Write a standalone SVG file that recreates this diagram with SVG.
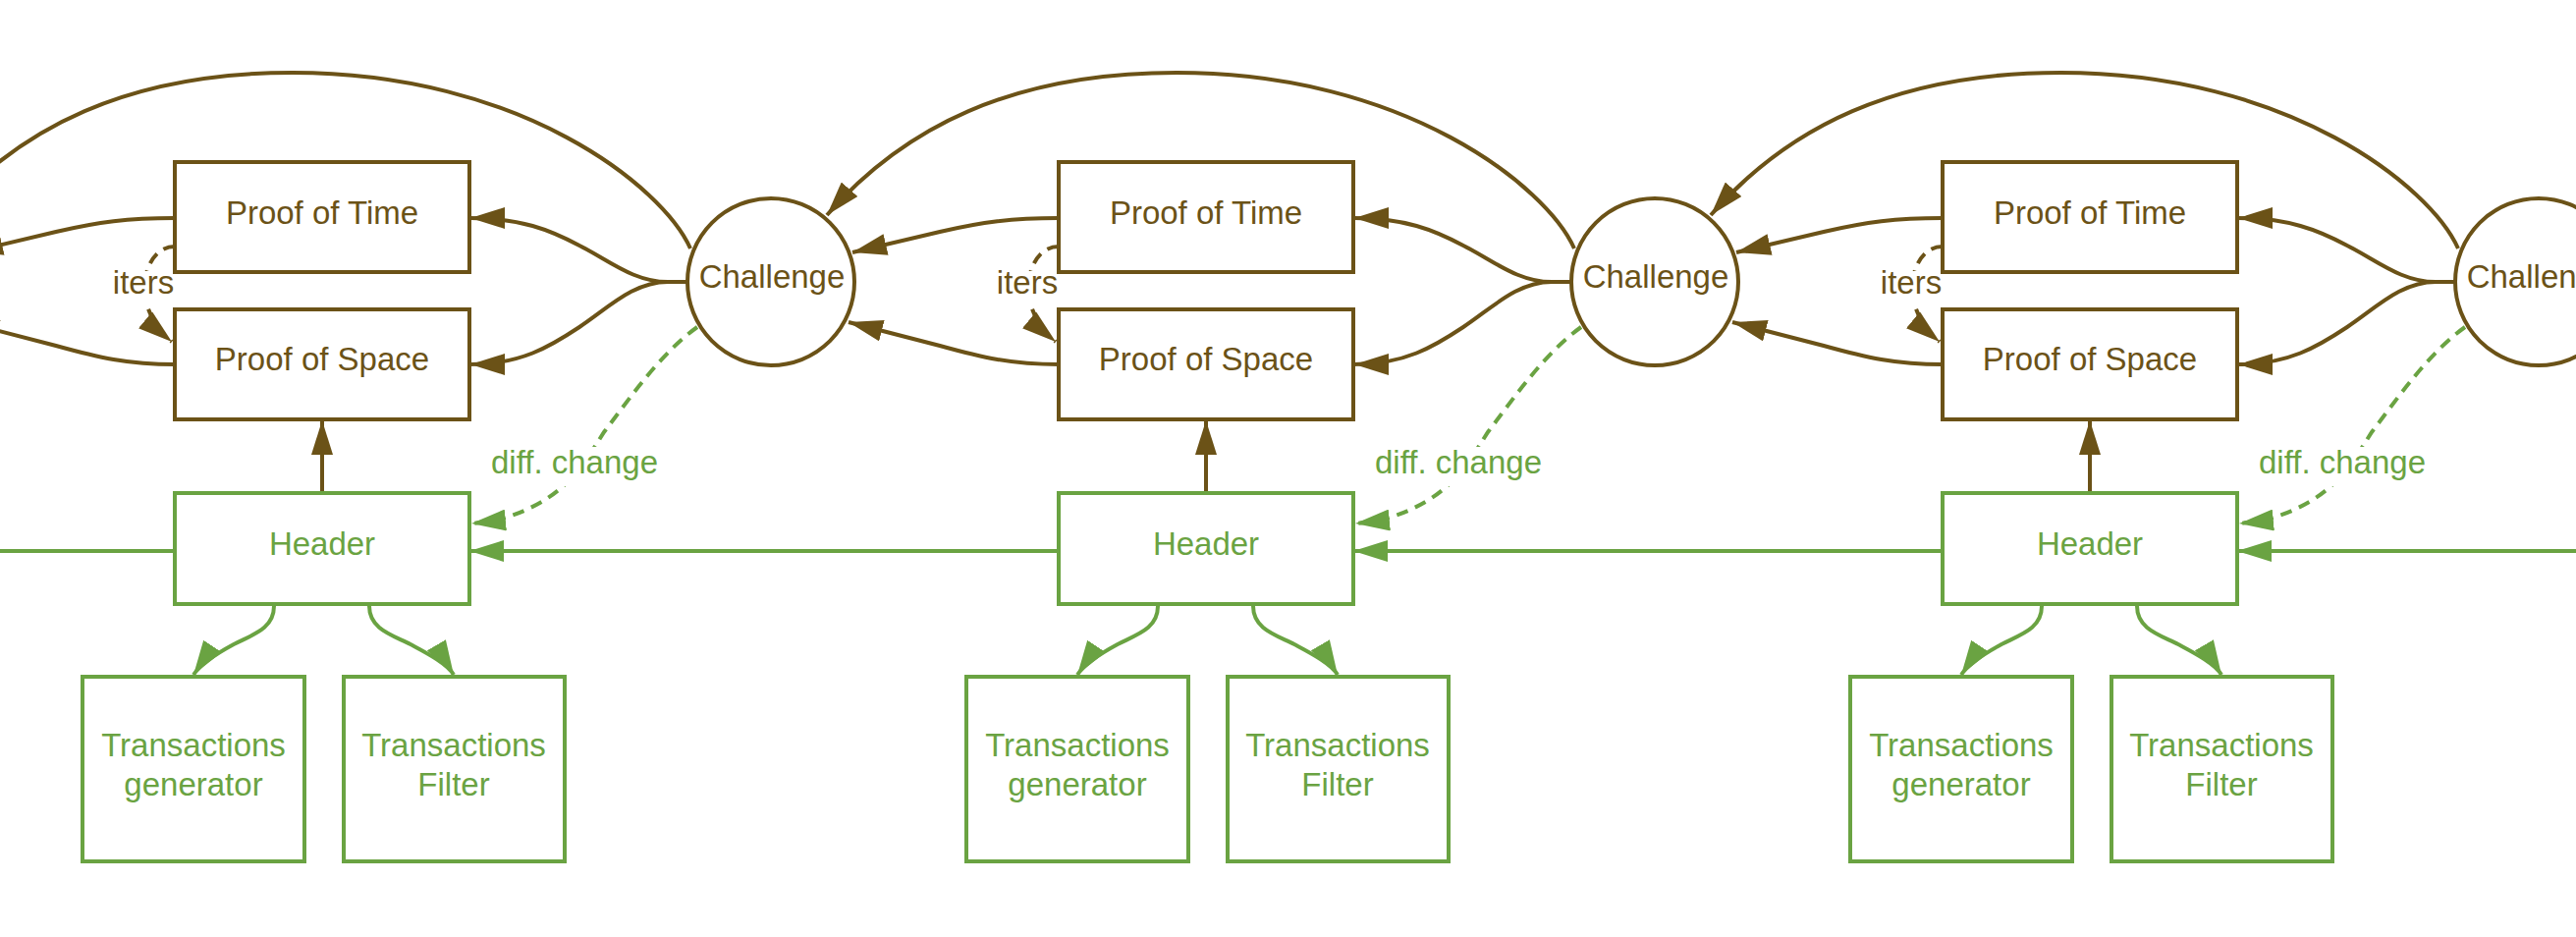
<svg xmlns="http://www.w3.org/2000/svg" width="2623" height="954" viewBox="0 0 2623 954">
<style>
.bg{fill:#ffffff}
.bbox{fill:#ffffff;stroke:#6B5217;stroke-width:4}
.gbox{fill:#ffffff;stroke:#6AA342;stroke-width:4}
.bt{fill:#6B5217;font-family:"Liberation Sans",Arial,sans-serif;font-size:33px;text-anchor:middle}
.gt{fill:#6AA342;font-family:"Liberation Sans",Arial,sans-serif;font-size:33px;text-anchor:middle}
.bl{fill:none;stroke:#6B5217;stroke-width:4;marker-end:url(#ab)}
.gl{fill:none;stroke:#6AA342;stroke-width:4;marker-end:url(#ag)}
.gn{fill:none;stroke:#6AA342;stroke-width:4}
.dash{stroke-dasharray:12 8}
.lbg{fill:#ffffff}
</style>
<defs>
<marker id="ab" viewBox="0 0 35 22" markerWidth="35" markerHeight="22" refX="35" refY="11" orient="auto" markerUnits="userSpaceOnUse"><path d="M0,0 L35,11 L0,22 z" fill="#6B5217"/></marker>
<marker id="ag" viewBox="0 0 35 22" markerWidth="35" markerHeight="22" refX="35" refY="11" orient="auto" markerUnits="userSpaceOnUse"><path d="M0,0 L35,11 L0,22 z" fill="#6AA342"/></marker>
<g id="colConn">
<path class="bl" d="M703,253 C675,190 530,74 298,74 C130,74 20,130 -58,219"/>
<path class="bl" d="M699,287 L680,287 C645,287 620,265 590,250 C560,234 530,222 479,222"/>
<path class="bl" d="M699,287 L680,287 C645,287 620,313 590,333 C560,353 530,371 479,371"/>
<path class="bl" d="M178,222 C130,222 100,226 57,236 L-32,257"/>
<path class="bl" d="M178,371 C130,371 100,364 57,352 L-36,328"/>
<path class="bl dash" d="M178,251 C160,251 149,268 147,290 C146,312 158,334 175,348"/>
<path class="bl" d="M328,502 L328,428"/>
<path class="gl" d="M178,561 L-422,561"/>
<path class="gl dash" d="M710,333 C675,358 645,400 615,440 C590,480 575,500 540,517 C520,527 500,531 480,533"/>
<path class="gl" d="M279,617 C279,640 258,646 238,656 C225,663 205,675 197,687"/>
<path class="gl" d="M376,617 C376,640 398,646 418,656 C431,663 455,675 462,687"/>
<rect class="lbg" x="113" y="276" width="64" height="35"/>
<text class="bt" x="146" y="299">iters</text>
<rect class="lbg" x="495" y="455" width="181" height="40"/>
<text class="gt" x="585" y="482">diff. change</text>
</g>
</defs>
<rect class="bg" x="0" y="0" width="2623" height="954"/>
<g id="connectors">
<use href="#colConn"/>
<use href="#colConn" transform="translate(900,0)"/>
<use href="#colConn" transform="translate(1800,0)"/>
<path class="gl" d="M2878,561 L2278,561"/>
</g>
<g id="col1-proof-of-time"><rect class="bbox" x="178" y="165" width="300" height="112"/><text class="bt" x="328" y="228">Proof of Time</text></g>
<g id="col1-proof-of-space"><rect class="bbox" x="178" y="315" width="300" height="112"/><text class="bt" x="328" y="377">Proof of Space</text></g>
<g id="col1-challenge"><circle class="bbox" cx="785" cy="287" r="85"/><text class="bt" x="786" y="293">Challenge</text></g>
<g id="col1-header"><rect class="gbox" x="178" y="502" width="300" height="113"/><text class="gt" x="328" y="565">Header</text></g>
<g id="col1-tx-generator"><rect class="gbox" x="84" y="689" width="226" height="188"/><text class="gt" x="197" y="770">Transactions</text><text class="gt" x="197" y="810">generator</text></g>
<g id="col1-tx-filter"><rect class="gbox" x="350" y="689" width="225" height="188"/><text class="gt" x="462" y="770">Transactions</text><text class="gt" x="462" y="810">Filter</text></g>

<g id="col2-proof-of-time"><rect class="bbox" x="1078" y="165" width="300" height="112"/><text class="bt" x="1228" y="228">Proof of Time</text></g>
<g id="col2-proof-of-space"><rect class="bbox" x="1078" y="315" width="300" height="112"/><text class="bt" x="1228" y="377">Proof of Space</text></g>
<g id="col2-challenge"><circle class="bbox" cx="1685" cy="287" r="85"/><text class="bt" x="1686" y="293">Challenge</text></g>
<g id="col2-header"><rect class="gbox" x="1078" y="502" width="300" height="113"/><text class="gt" x="1228" y="565">Header</text></g>
<g id="col2-tx-generator"><rect class="gbox" x="984" y="689" width="226" height="188"/><text class="gt" x="1097" y="770">Transactions</text><text class="gt" x="1097" y="810">generator</text></g>
<g id="col2-tx-filter"><rect class="gbox" x="1250" y="689" width="225" height="188"/><text class="gt" x="1362" y="770">Transactions</text><text class="gt" x="1362" y="810">Filter</text></g>

<g id="col3-proof-of-time"><rect class="bbox" x="1978" y="165" width="300" height="112"/><text class="bt" x="2128" y="228">Proof of Time</text></g>
<g id="col3-proof-of-space"><rect class="bbox" x="1978" y="315" width="300" height="112"/><text class="bt" x="2128" y="377">Proof of Space</text></g>
<g id="col3-challenge"><circle class="bbox" cx="2585" cy="287" r="85"/><text class="bt" x="2586" y="293">Challenge</text></g>
<g id="col3-header"><rect class="gbox" x="1978" y="502" width="300" height="113"/><text class="gt" x="2128" y="565">Header</text></g>
<g id="col3-tx-generator"><rect class="gbox" x="1884" y="689" width="226" height="188"/><text class="gt" x="1997" y="770">Transactions</text><text class="gt" x="1997" y="810">generator</text></g>
<g id="col3-tx-filter"><rect class="gbox" x="2150" y="689" width="225" height="188"/><text class="gt" x="2262" y="770">Transactions</text><text class="gt" x="2262" y="810">Filter</text></g>
</svg>
